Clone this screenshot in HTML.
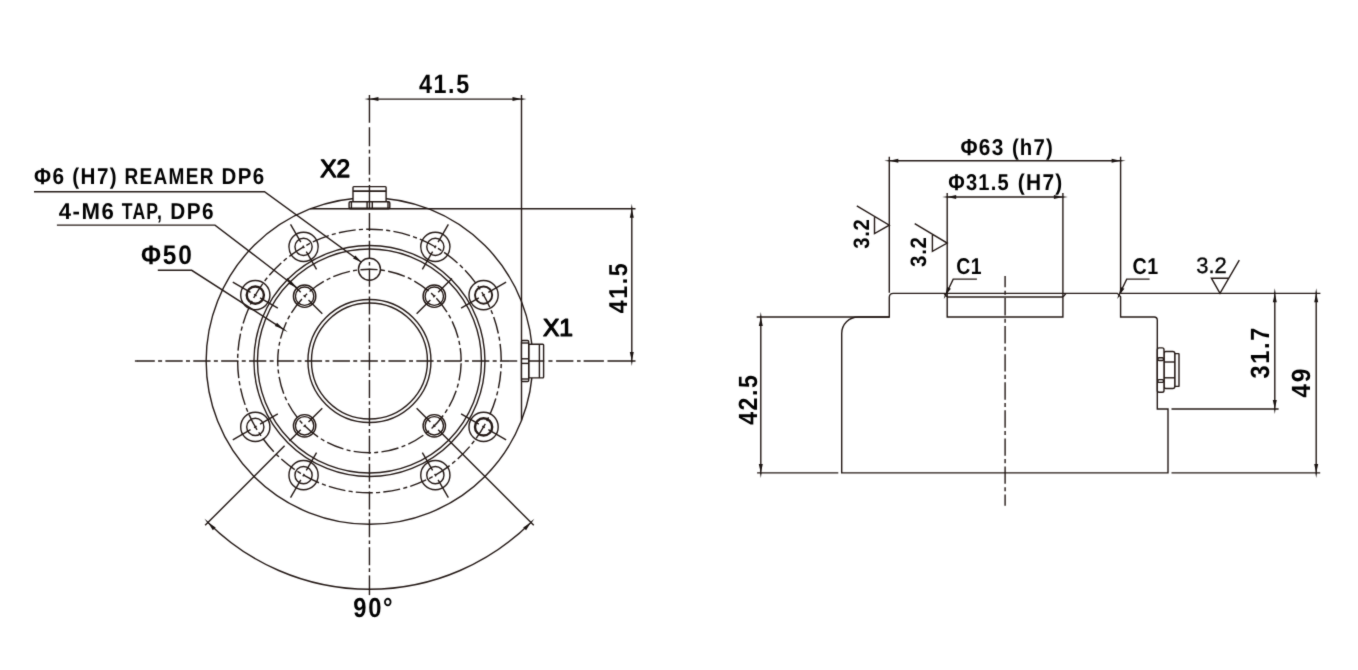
<!DOCTYPE html>
<html lang="en">
<head>
<meta charset="utf-8">
<title>Dimension drawing</title>
<style>
html,body{margin:0;padding:0;background:#fff;}
body{width:1358px;height:670px;overflow:hidden;}
svg{display:block;}
.ln{fill:none;stroke:#231815;stroke-width:1.4;}
.ah{fill:#1a1311;stroke:none;}
.tx{opacity:.999;}
.tx text{text-rendering:geometricPrecision;font-family:"Liberation Sans",sans-serif;font-weight:bold;fill:#000;}
.tx text.s{stroke:#000;stroke-linejoin:round;}
.tx text.n{font-weight:normal;}
</style>
</head>
<body>
<svg width="1358" height="670" viewBox="0 0 1358 670">
<defs>
<filter id="soft" x="0" y="0" width="1358" height="670" filterUnits="userSpaceOnUse" color-interpolation-filters="sRGB">
<feConvolveMatrix order="3" kernelMatrix="0.02 0.08 0.02 0.08 0.6 0.08 0.02 0.08 0.02" divisor="1" edgeMode="duplicate" preserveAlpha="true"/>
</filter>
</defs>
<g filter="url(#soft)">
<rect width="1358" height="670" fill="#fff"/>
<g class="ln">
<circle cx="369.45" cy="361" r="163.3"/>
<line x1="310.27" y1="208.8" x2="635.5" y2="208.8"/>
<line x1="521.5" y1="94.9" x2="521.5" y2="420.56"/>
<circle cx="369.45" cy="361" r="115.5"/>
<circle cx="369.45" cy="361" r="112"/>
<circle cx="369.45" cy="361" r="61.5"/>
<circle cx="369.45" cy="361" r="58"/>
<circle cx="369.45" cy="361" r="91.7" stroke-dasharray="17.4 3.3 4 3.3" stroke-dashoffset="25.72"/>
<circle cx="369.45" cy="361" r="131.8" stroke-dasharray="17.1 3.2 4.1 3.2" stroke-dashoffset="3.5" transform="rotate(-90 369.45 361)"/>
<rect x="353" y="186.6" width="33.1" height="15.1" rx="0.8" fill="#fff"/>
<line x1="353" y1="191.2" x2="386.1" y2="191.2" stroke-width="1.7"/>
<rect x="349.1" y="201.7" width="40.7" height="7.1" rx="1.2" fill="#fff"/>
<line x1="351.4" y1="201.7" x2="351.4" y2="208.8"/>
<line x1="388" y1="201.7" x2="388" y2="208.8"/>
<line x1="367.1" y1="201.7" x2="367.1" y2="208.8"/>
<line x1="372.3" y1="201.7" x2="372.3" y2="208.8"/>
<line x1="349.1" y1="208.2" x2="389.8" y2="208.2"/>
<rect x="528.7" y="344.2" width="14.9" height="33.7" rx="0.8" fill="#fff"/>
<line x1="539.4" y1="344.2" x2="539.4" y2="377.9"/>
<rect x="521.5" y="340.5" width="7.2" height="41" rx="1.2" fill="#fff"/>
<line x1="521.5" y1="343" x2="528.7" y2="343"/>
<line x1="521.5" y1="379" x2="528.7" y2="379"/>
<line x1="521.5" y1="358.8" x2="528.7" y2="358.8"/>
<line x1="521.5" y1="363.4" x2="528.7" y2="363.4"/>
<line x1="134.9" y1="361" x2="138" y2="361"/>
<line x1="137.5" y1="361" x2="518" y2="361" stroke-dasharray="17.3 3.3 4 3.28"/>
<path d="M528.7 361H544.2M548.4 361H552.5M556.1 361H573.4M577 361H580.6M583.6 361H603.9M607.5 361H635.5"/>
<path d="M369.45 94.9V122.8M369.45 127.3V146.3M369.45 149.7V153.4M369.45 156.8V174.7M369.45 177.7V181.4M369.45 185V208.8"/>
<line x1="369.45" y1="213" x2="369.45" y2="572.3" stroke-dasharray="18 3.1 3.6 3.15"/>
<line x1="369.45" y1="575.4" x2="369.45" y2="595.1"/>
<circle cx="483.59" cy="426.9" r="14.6"/>
<circle cx="483.59" cy="426.9" r="8.6" stroke-width="2.4"/>
<line x1="461.08" y1="413.9" x2="478.83" y2="424.15"/>
<line x1="482.38" y1="426.2" x2="484.8" y2="427.6"/>
<line x1="488.36" y1="429.65" x2="506.11" y2="439.9"/>
<circle cx="435.35" cy="475.14" r="14.6"/>
<circle cx="435.35" cy="475.14" r="8.6"/>
<line x1="422.35" y1="452.63" x2="432.6" y2="470.38"/>
<line x1="434.65" y1="473.93" x2="436.05" y2="476.35"/>
<line x1="438.1" y1="479.91" x2="448.35" y2="497.66"/>
<circle cx="303.55" cy="475.14" r="14.6"/>
<circle cx="303.55" cy="475.14" r="8.6"/>
<line x1="316.55" y1="452.63" x2="306.3" y2="470.38"/>
<line x1="304.25" y1="473.93" x2="302.85" y2="476.35"/>
<line x1="300.8" y1="479.91" x2="290.55" y2="497.66"/>
<circle cx="255.31" cy="426.9" r="14.6"/>
<circle cx="255.31" cy="426.9" r="8.6"/>
<line x1="277.82" y1="413.9" x2="260.07" y2="424.15"/>
<line x1="256.52" y1="426.2" x2="254.1" y2="427.6"/>
<line x1="250.54" y1="429.65" x2="232.79" y2="439.9"/>
<circle cx="255.31" cy="295.1" r="14.6"/>
<circle cx="255.31" cy="295.1" r="8.6" stroke-width="2.4"/>
<line x1="277.82" y1="308.1" x2="260.07" y2="297.85"/>
<line x1="256.52" y1="295.8" x2="254.1" y2="294.4"/>
<line x1="250.54" y1="292.35" x2="232.79" y2="282.1"/>
<circle cx="303.55" cy="246.86" r="14.6"/>
<circle cx="303.55" cy="246.86" r="8.6"/>
<line x1="316.55" y1="269.37" x2="306.3" y2="251.62"/>
<line x1="304.25" y1="248.07" x2="302.85" y2="245.65"/>
<line x1="300.8" y1="242.09" x2="290.55" y2="224.34"/>
<circle cx="435.35" cy="246.86" r="14.6"/>
<circle cx="435.35" cy="246.86" r="8.6"/>
<line x1="422.35" y1="269.37" x2="432.6" y2="251.62"/>
<line x1="434.65" y1="248.07" x2="436.05" y2="245.65"/>
<line x1="438.1" y1="242.09" x2="448.35" y2="224.34"/>
<circle cx="483.59" cy="295.1" r="14.6"/>
<circle cx="483.59" cy="295.1" r="8.6" stroke-width="1.9"/>
<line x1="461.08" y1="308.1" x2="478.83" y2="297.85"/>
<line x1="482.38" y1="295.8" x2="484.8" y2="294.4"/>
<line x1="488.36" y1="292.35" x2="506.11" y2="282.1"/>
<circle cx="434.29" cy="425.84" r="11.2"/>
<circle cx="434.29" cy="425.84" r="9.2"/>
<line x1="416.61" y1="408.16" x2="430.4" y2="421.95"/>
<line x1="433.3" y1="424.85" x2="435.28" y2="426.83"/>
<line x1="438.18" y1="429.73" x2="533.78" y2="525.33"/>
<circle cx="304.61" cy="425.84" r="11.2"/>
<circle cx="304.61" cy="425.84" r="9.2"/>
<line x1="322.29" y1="408.16" x2="308.5" y2="421.95"/>
<line x1="305.6" y1="424.85" x2="303.62" y2="426.83"/>
<line x1="300.72" y1="429.73" x2="289.41" y2="441.04"/>
<line x1="284.6" y1="445.85" x2="205.12" y2="525.33"/>
<circle cx="304.61" cy="296.16" r="11.2"/>
<circle cx="304.61" cy="296.16" r="9.2"/>
<line x1="322.29" y1="313.84" x2="308.5" y2="300.05"/>
<line x1="305.6" y1="297.15" x2="303.62" y2="295.17"/>
<line x1="300.72" y1="292.27" x2="286.93" y2="278.48"/>
<circle cx="434.29" cy="296.16" r="11.2"/>
<circle cx="434.29" cy="296.16" r="9.2"/>
<line x1="416.61" y1="313.84" x2="430.4" y2="300.05"/>
<line x1="433.3" y1="297.15" x2="435.28" y2="295.17"/>
<line x1="438.18" y1="292.27" x2="451.97" y2="278.48"/>
<circle cx="369.45" cy="269.3" r="11"/>
<path d="M34 191.7H264.5L361.5 262.3"/>
<path d="M56.9 225.1H215L296.8 287.7"/>
<path d="M157.8 270.3H191.7L283.5 329.3"/>
<line x1="369.45" y1="99.1" x2="521.5" y2="99.1"/>
<line x1="631.8" y1="208.8" x2="631.8" y2="361"/>
<path d="M208.02 522.43A228.3 228.3 0 0 0 530.88 522.43"/>
</g>
<g>
<polygon class="ah" points="361.5,262.3 353.05,258.62 355.4,255.39"/>
<polygon class="ah" points="296.8,287.7 288.44,283.82 290.87,280.64"/>
<polygon class="ah" points="283.5,329.3 274.85,326.12 277.01,322.75"/>
<polygon class="ah" points="283.07,329.97 287.71,332 283.93,328.63"/>
<polygon class="ah" points="369.45,99.1 378.45,97.1 378.45,101.1"/>
<polygon class="ah" points="369.45,98.3 364.45,99.1 369.45,99.9"/>
<polygon class="ah" points="521.5,99.1 512.5,101.1 512.5,97.1"/>
<polygon class="ah" points="521.5,99.9 526.5,99.1 521.5,98.3"/>
<polygon class="ah" points="631.8,208.8 633.8,217.8 629.8,217.8"/>
<polygon class="ah" points="632.6,208.8 631.8,203.8 631,208.8"/>
<polygon class="ah" points="631.8,361 629.8,352 633.8,352"/>
<polygon class="ah" points="631,361 631.8,366 632.6,361"/>
<polygon class="ah" points="530.88,522.43 526.08,530.3 523.2,527.53"/>
<polygon class="ah" points="531.46,522.99 534.35,518.83 530.31,521.88"/>
<polygon class="ah" points="208.02,522.43 215.7,527.53 212.82,530.3"/>
<polygon class="ah" points="208.59,521.88 204.55,518.83 207.44,522.99"/>
</g>
<g class="ln">
<path d="M889.3 317H858.2A16.5 16.5 0 0 0 841.7 333.5V472.9H1168V409H1157.3V320.2A3.2 3.2 0 0 0 1154.1 317H1120.6V296.75L1117.4 293.35H893.3Q889.3 293.35 889.3 297.35Z"/>
<path d="M944 293.35L947.2 297V317H1062.9V297L1066.1 293.35"/>
<line x1="947.2" y1="297" x2="1062.9" y2="297"/>
<line x1="1120.6" y1="293.35" x2="1320.4" y2="293.35"/>
<line x1="756.7" y1="317" x2="889.3" y2="317"/>
<line x1="757.1" y1="472.9" x2="838.3" y2="472.9"/>
<line x1="1171.5" y1="472.9" x2="1320.2" y2="472.9"/>
<line x1="1171.5" y1="409" x2="1278.6" y2="409"/>
<line x1="889.3" y1="156.7" x2="889.3" y2="292.85"/>
<line x1="1120.6" y1="156.7" x2="1120.6" y2="293.35"/>
<line x1="947.2" y1="193.1" x2="947.2" y2="297"/>
<line x1="1062.9" y1="193.1" x2="1062.9" y2="297"/>
<line x1="1005.1" y1="276" x2="1005.1" y2="505.8" stroke-dasharray="17.4 3.3 4.07 3.3" stroke-dashoffset="6.04"/>
<line x1="889.3" y1="160.8" x2="1120.6" y2="160.8"/>
<line x1="947.2" y1="197" x2="1062.9" y2="197"/>
<line x1="760.8" y1="317" x2="760.8" y2="472.9"/>
<line x1="1274.8" y1="293.35" x2="1274.8" y2="409"/>
<line x1="1316.2" y1="293.35" x2="1316.2" y2="472.9"/>
<path d="M976.9 279.1H953.2L945.5 295.3"/>
<path d="M1149.6 279.1H1126.7L1119 295.3"/>
<path d="M856.8 205.8L889.3 225.2L874.5 233.5V217.2"/>
<path d="M914.7 223.7L947.2 243.1L932.4 251.4V235.1"/>
<path d="M1239.3 260.1L1220 293.3L1211.4 278.2H1228.7"/>
<rect x="1174.6" y="353.6" width="4.4" height="32.8" rx="0.5" fill="#fff"/>
<rect x="1164" y="351.5" width="10.8" height="37" rx="2" fill="#fff"/>
<line x1="1164" y1="362" x2="1174.8" y2="362"/>
<line x1="1164" y1="377.8" x2="1174.8" y2="377.8"/>
<rect x="1157.3" y="347.9" width="6.7" height="44.4" rx="1.8" fill="#fff"/>
<rect x="1157.9" y="357.7" width="5.5" height="2.8" rx="1"/>
<rect x="1157.9" y="379.6" width="5.5" height="2.8" rx="1"/>
</g>
<g>
<polygon class="ah" points="889.3,160.8 898.3,158.8 898.3,162.8"/>
<polygon class="ah" points="889.3,160 884.3,160.8 889.3,161.6"/>
<polygon class="ah" points="1120.6,160.8 1111.6,162.8 1111.6,158.8"/>
<polygon class="ah" points="1120.6,161.6 1125.6,160.8 1120.6,160"/>
<polygon class="ah" points="947.2,197 956.2,195 956.2,199"/>
<polygon class="ah" points="947.2,196.2 942.2,197 947.2,197.8"/>
<polygon class="ah" points="1062.9,197 1053.9,199 1053.9,195"/>
<polygon class="ah" points="1062.9,197.8 1067.9,197 1062.9,196.2"/>
<polygon class="ah" points="760.8,317 762.8,326 758.8,326"/>
<polygon class="ah" points="761.6,317 760.8,312 760,317"/>
<polygon class="ah" points="760.8,472.9 758.8,463.9 762.8,463.9"/>
<polygon class="ah" points="760,472.9 760.8,477.9 761.6,472.9"/>
<polygon class="ah" points="1274.8,293.35 1276.8,302.35 1272.8,302.35"/>
<polygon class="ah" points="1275.6,293.35 1274.8,288.35 1274,293.35"/>
<polygon class="ah" points="1274.8,409 1272.8,400 1276.8,400"/>
<polygon class="ah" points="1274,409 1274.8,414 1275.6,409"/>
<polygon class="ah" points="1316.2,293.35 1318.2,302.35 1314.2,302.35"/>
<polygon class="ah" points="1317,293.35 1316.2,288.35 1315.4,293.35"/>
<polygon class="ah" points="1316.2,472.9 1314.2,463.9 1318.2,463.9"/>
<polygon class="ah" points="1315.4,472.9 1316.2,477.9 1317,472.9"/>
<polygon class="ah" points="945.5,295.3 947.12,286.99 950.92,288.8"/>
<polygon class="ah" points="944.78,294.96 943.78,298.91 946.22,295.64"/>
<polygon class="ah" points="1119,295.3 1120.62,286.99 1124.42,288.8"/>
<polygon class="ah" points="1118.28,294.96 1117.28,298.91 1119.72,295.64"/>
</g>
<g class="tx">
<text y="93" font-size="26.51" letter-spacing="1.86"><tspan x="418.94" textLength="51.85" lengthAdjust="spacingAndGlyphs">41.5</tspan></text>
<text y="177" font-size="25.03" class="s n" stroke-width="1.25"><tspan x="320.21" textLength="29.87" lengthAdjust="spacingAndGlyphs">X2</tspan></text>
<text y="184" font-size="22.82" letter-spacing="1.6"><tspan x="33.99" textLength="31.54" lengthAdjust="spacingAndGlyphs">Φ6</tspan> <tspan x="72.27" textLength="45.93" lengthAdjust="spacingAndGlyphs">(H7)</tspan> <tspan x="124.4" textLength="90.49" lengthAdjust="spacingAndGlyphs">REAMER</tspan> <tspan x="221.52" textLength="44.18" lengthAdjust="spacingAndGlyphs">DP6</tspan></text>
<text y="219" font-size="22.82" letter-spacing="1.6"><tspan x="58.71" textLength="56.73" lengthAdjust="spacingAndGlyphs">4-M6</tspan> <tspan x="121.71" textLength="41.44" lengthAdjust="spacingAndGlyphs">TAP,</tspan> <tspan x="170.2" textLength="44.76" lengthAdjust="spacingAndGlyphs">DP6</tspan></text>
<text y="264" font-size="26.77" letter-spacing="1.87"><tspan x="141.06" textLength="52.4" lengthAdjust="spacingAndGlyphs">Φ50</tspan></text>
<text y="336" font-size="24.68" class="s n" stroke-width="1.23"><tspan x="542.89" textLength="30.11" lengthAdjust="spacingAndGlyphs">X1</tspan></text>
<text y="627" font-size="25.89" letter-spacing="1.81" transform="rotate(-90)"><tspan x="-313.13" textLength="51.48" lengthAdjust="spacingAndGlyphs">41.5</tspan></text>
<text y="617" font-size="27.52" letter-spacing="1.93"><tspan x="353.29" textLength="41.03" lengthAdjust="spacingAndGlyphs">90°</tspan></text>
<text y="155" font-size="22.96" letter-spacing="1.38"><tspan x="960.52" textLength="44.03" lengthAdjust="spacingAndGlyphs">Φ63</tspan> <tspan x="1011.88" textLength="42.18" lengthAdjust="spacingAndGlyphs">(h7)</tspan></text>
<text y="190" font-size="22.82" letter-spacing="1.37"><tspan x="948.19" textLength="61.63" lengthAdjust="spacingAndGlyphs">Φ31.5</tspan> <tspan x="1017.8" textLength="45.73" lengthAdjust="spacingAndGlyphs">(H7)</tspan></text>
<text y="869" font-size="22.25" letter-spacing="0.78" transform="rotate(-90)"><tspan x="-248.75" textLength="30.38" lengthAdjust="spacingAndGlyphs">3.2</tspan></text>
<text y="926" font-size="22.25" letter-spacing="0.78" transform="rotate(-90)"><tspan x="-266.92" textLength="30.6" lengthAdjust="spacingAndGlyphs">3.2</tspan></text>
<text y="274" font-size="22.85" letter-spacing="0.8"><tspan x="956.19" textLength="26.12" lengthAdjust="spacingAndGlyphs">C1</tspan></text>
<text y="274" font-size="22.85" letter-spacing="0.8"><tspan x="1132.44" textLength="26.49" lengthAdjust="spacingAndGlyphs">C1</tspan></text>
<text y="273" font-size="22.34" class="s n" stroke-width="0.34"><tspan x="1196.26" textLength="30.47" lengthAdjust="spacingAndGlyphs">3.2</tspan></text>
<text y="1269" font-size="26.34" letter-spacing="1.84" transform="rotate(-90)"><tspan x="-378.45" textLength="52.46" lengthAdjust="spacingAndGlyphs">31.7</tspan></text>
<text y="1310" font-size="26.34" letter-spacing="1.84" transform="rotate(-90)"><tspan x="-397.72" textLength="30.93" lengthAdjust="spacingAndGlyphs">49</tspan></text>
<text y="757" font-size="26.34" letter-spacing="1.84" transform="rotate(-90)"><tspan x="-424.87" textLength="51.43" lengthAdjust="spacingAndGlyphs">42.5</tspan></text>
</g>
</g>
</svg>
</body>
</html>
